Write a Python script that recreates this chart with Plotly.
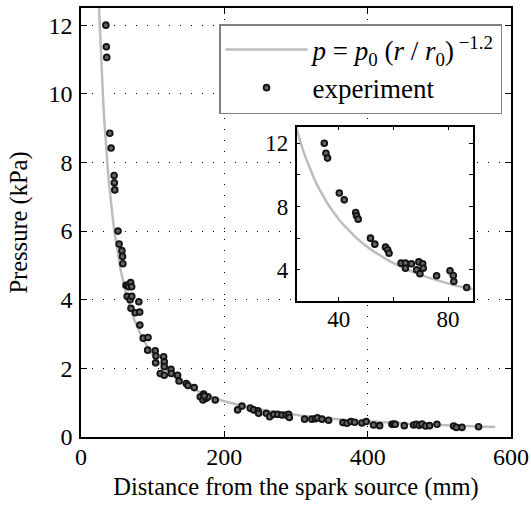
import numpy as np
import plotly.graph_objects as go

distance_mm = [
    34.7, 35.3, 35.9, 40.2, 42.0, 46.2, 46.5, 47.1, 51.6, 53.2,
    57.1, 57.9, 58.4, 62.8, 64.4, 64.4, 66.6, 69.3, 70.7, 68.5,
    69.7, 70.9, 75.8, 80.7, 81.9, 82.1, 86.8,
    93.5, 93.0, 103.6, 104.6, 104.1, 115.3, 116.2, 116.2, 110.6, 116.2,
    125.6, 126.0, 134.8, 136.8, 146.9, 149.3, 158.0, 166.4, 171.1, 170.2,
    174.8, 177.2, 172.1, 187.3,
    218.5, 224.6, 236.2, 240.9, 247.0, 247.8, 258.5, 263.2, 268.8, 274.3,
    280.4, 286.0, 289.7, 290.7, 312.0, 322.2, 327.0, 329.9, 336.2, 345.5,
    365.5, 371.1, 376.6, 381.8, 392.0, 398.0, 408.2, 416.7, 433.9, 436.4,
    438.5, 451.1, 464.0, 468.0, 471.9, 475.8, 480.8, 486.4, 496.7, 519.9,
    523.7, 531.6, 554.7,
]
pressure_kpa = [
    12.0, 11.37, 11.06, 8.85, 8.42, 7.62, 7.41, 7.20, 6.0, 5.62,
    5.43, 5.26, 5.05, 4.42, 4.42, 4.10, 4.38, 4.50, 4.38, 4.00,
    3.75, 4.10, 3.62, 3.94, 3.64, 3.26, 2.88,
    2.90, 2.53, 2.51, 2.36, 2.16, 2.34, 2.19, 2.05, 1.85, 1.80,
    1.97, 1.85, 1.80, 1.63, 1.56, 1.50, 1.44, 1.17, 1.25, 1.08,
    1.13, 1.17, 1.20, 1.08,
    0.79, 0.90, 0.84, 0.79, 0.76, 0.69, 0.69, 0.59, 0.66, 0.66,
    0.64, 0.64, 0.66, 0.57, 0.52, 0.52, 0.53, 0.56, 0.52, 0.49,
    0.42, 0.40, 0.45, 0.43, 0.41, 0.45, 0.35, 0.33, 0.37, 0.38,
    0.37, 0.33, 0.35, 0.37, 0.34, 0.38, 0.32, 0.33, 0.37, 0.32,
    0.28, 0.28, 0.30,
]

# ---- fitted model p = p0 (r/r0)^-1.2 ----
P0 = 5.5      # kPa
R0 = 50.0     # mm
EXPONENT = -1.2
r_fit = np.linspace(20, 578, 500)
p_fit = P0 * (r_fit / R0) ** EXPONENT

x_ticks = [0, 200, 400, 600]
y_ticks = [0, 2, 4, 6, 8, 10, 12]
inset_x_ticks = [40, 80]
inset_x_minor = [60]
inset_y_ticks = [4, 8, 12]
inset_y_minor = [6, 10]

FONT = "Liberation Serif, Times New Roman, Times, serif"
CURVE_COLOR = "#bdbdbd"
MARK_FILL = "#666666"
MARK_EDGE = "#141414"

inset_mask = [d <= 90 for d in distance_mm]
inset_d = [d for d, m in zip(distance_mm, inset_mask) if m]
inset_p = [p for p, m in zip(pressure_kpa, inset_mask) if m]

marker_style = dict(size=5.7, color=MARK_FILL, line=dict(color=MARK_EDGE, width=1.9))

fig = go.Figure()
fig.add_trace(go.Scatter(
    x=r_fit, y=p_fit, mode="lines",
    line=dict(color=CURVE_COLOR, width=2.5),
    name="<i>p</i> = <i>p</i><sub>0</sub> (<i>r</i> / <i>r</i><sub>0</sub>)<sup> \u22121.2</sup>",
    xaxis="x", yaxis="y",
))
fig.add_trace(go.Scatter(
    x=distance_mm, y=pressure_kpa, mode="markers",
    marker=marker_style, name="experiment", xaxis="x", yaxis="y",
))
fig.add_trace(go.Scatter(
    x=r_fit, y=p_fit, mode="lines",
    line=dict(color=CURVE_COLOR, width=2.5),
    showlegend=False, xaxis="x2", yaxis="y2",
))
fig.add_trace(go.Scatter(
    x=inset_d, y=inset_p, mode="markers",
    marker=marker_style, showlegend=False, xaxis="x2", yaxis="y2",
))

axis_common = dict(
    showline=True, linecolor="black", linewidth=1.5, mirror="ticks",
    ticks="inside", tickcolor="black", tickwidth=1, zeroline=False,
    automargin=False,
)

fig.update_layout(
    template="none",
    width=531, height=506, autosize=False,
    margin=dict(l=81, r=20, t=8, b=69),
    paper_bgcolor="white", plot_bgcolor="white",
    font=dict(family=FONT, color="black"),
    xaxis=dict(
        **axis_common, range=[0, 600], tickvals=x_ticks, ticklen=6,
        tickfont=dict(family=FONT, size=24, color="black"),
        ticklabelstandoff=-3,
        showgrid=True, gridcolor="black", gridwidth=1, griddash="1px,10px",
        title=dict(text="Distance from the spark source (mm)",
                   font=dict(family=FONT, size=24.5), standoff=9),
    ),
    yaxis=dict(
        **axis_common, range=[0, 12.5], tickvals=y_ticks, ticklen=6,
        tickfont=dict(family=FONT, size=24, color="black"),
        ticklabelstandoff=2,
        showgrid=True, gridcolor="black", gridwidth=1, griddash="1px,10px",
        title=dict(text="Pressure (kPa)", font=dict(family=FONT, size=24.5), standoff=14),
    ),
    xaxis2=dict(
        **axis_common, domain=[0.5016, 0.9109], anchor="y2", range=[24.6, 89.0],
        tickvals=inset_x_ticks, ticklen=4, showgrid=False,
        tickfont=dict(family=FONT, size=23, color="black"),
        ticklabelstandoff=-3,
        minor=dict(tickvals=inset_x_minor, ticks="inside", ticklen=4,
                   tickcolor="black", showgrid=False),
    ),
    yaxis2=dict(
        **axis_common, domain=[0.3175, 0.7235], anchor="x2", range=[2.04, 13.05],
        tickvals=inset_y_ticks, ticklen=4, showgrid=False,
        tickfont=dict(family=FONT, size=23, color="black"),
        ticklabelstandoff=2,
        minor=dict(tickvals=inset_y_minor, ticks="inside", ticklen=4,
                   tickcolor="black", showgrid=False),
    ),
    legend=dict(
        x=0.321, y=0.9627, xanchor="left", yanchor="top",
        bgcolor="white", bordercolor="#808080", borderwidth=1.5,
        font=dict(family=FONT, size=27, color="black"),
        itemwidth=82,
    ),
)

fig.write_html("out.html",
               config={"displayModeBar": False},
               post_script="document.body.style.margin='0';document.body.style.padding='0';")
